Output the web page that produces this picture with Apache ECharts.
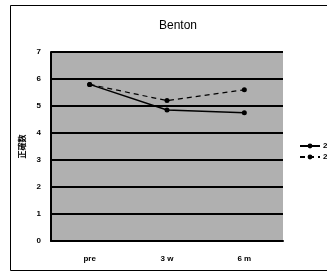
<!DOCTYPE html>
<html>
<head>
<meta charset="utf-8">
<script src="https://cdn.jsdelivr.net/npm/echarts@6/dist/echarts.min.js"></script>
<style>
  html, body { margin: 0; padding: 0; background: #fff; }
  #main { width: 327px; height: 273px; }
</style>
</head>
<body>
<div id="main"></div>
<script>
const categories = ['pre', '3 w', '6 m']
const seriesNames = ['2', '2 ']
const solidValues = [5.8, 4.85, 4.75]
const dashedValues = [5.8, 5.2, 5.6]

const chart = echarts.init(document.getElementById('main'))
const font = 'Liberation Sans, Arial, sans-serif'

const option = {
  backgroundColor: '#fff',
  animation: false,
  title: {
    text: 'Benton',
    left: 173, top: 15, textAlign: 'center',
    textStyle: { fontFamily: font, fontSize: 12, fontWeight: 'normal', color: '#000' }
  },
  graphic: [
    { type: 'rect', shape: { x: 10.5, y: 5.5, width: 330, height: 265 },
      style: { fill: null, stroke: '#000', lineWidth: 1 }, z: 0 }
  ],
  legend: {
    orient: 'vertical', left: 294, top: 137, itemGap: 3,
    itemWidth: 20, itemHeight: 6,
    textStyle: { fontFamily: font, fontSize: 8, fontWeight: 'bold', color: '#000', padding: [0, 0, 0, -2] },
    data: seriesNames
  },
  grid: {
    left: 51, right: 44, top: 52, bottom: 32,
    show: true, backgroundColor: '#b0b0b0', borderWidth: 0
  },
  xAxis: {
    type: 'category', data: categories, boundaryGap: true,
    axisLine: { lineStyle: { color: '#000', width: 2 } },
    axisTick: { show: false },
    axisLabel: { margin: 14, fontFamily: font, fontSize: 8, fontWeight: 'bold', color: '#000' }
  },
  yAxis: {
    type: 'value', min: 0, max: 7, interval: 1,
    name: '正確数', nameLocation: 'middle', nameGap: 17,
    nameTextStyle: { fontFamily: 'Noto Sans CJK JP', fontSize: 8, fontWeight: 'bold', color: '#000' },
    axisLine: { show: true, lineStyle: { color: '#000', width: 2 } },
    axisTick: { show: false },
    axisLabel: { margin: 10, fontFamily: font, fontSize: 8, fontWeight: 'bold', color: '#000' },
    splitLine: { lineStyle: { color: '#000', width: 2 } }
  },
  series: [
    {
      name: seriesNames[0], type: 'line', data: solidValues,
      symbol: 'circle', symbolSize: 5,
      lineStyle: { color: '#000', width: 1.5 },
      itemStyle: { color: '#000' }
    },
    {
      name: seriesNames[1], type: 'line', data: dashedValues,
      symbol: 'circle', symbolSize: 5,
      lineStyle: { color: '#000', width: 1.2, type: [5, 4] },
      itemStyle: { color: '#000' }
    }
  ]
}
chart.setOption(option)
</script>
</body>
</html>
